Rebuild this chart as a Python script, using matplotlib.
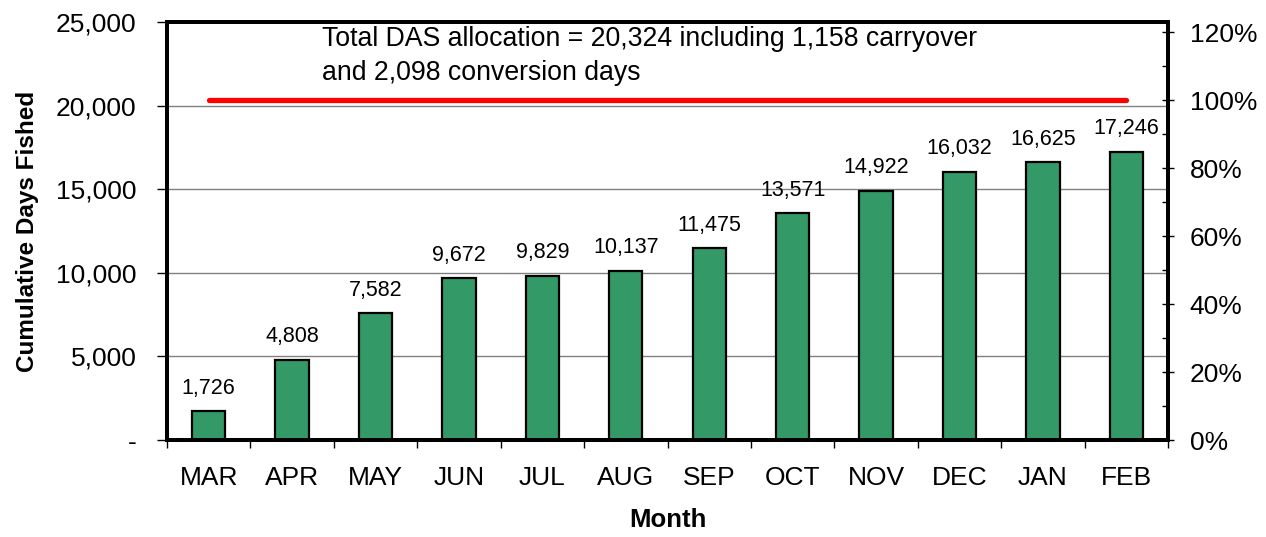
import matplotlib
matplotlib.use("Agg")
import matplotlib.pyplot as plt
from matplotlib.ticker import FixedLocator, FuncFormatter, MultipleLocator, NullFormatter

plt.rcParams['font.family'] = ['Liberation Sans', 'DejaVu Sans']

months = ["MAR", "APR", "MAY", "JUN", "JUL", "AUG", "SEP", "OCT", "NOV", "DEC", "JAN", "FEB"]
cum_days = [1726, 4808, 7582, 9672, 9829, 10137, 11475, 13571, 14922, 16032, 16625, 17246]
allocation = 20324
note = "Total DAS allocation = 20,324 including 1,158 carryover\nand 2,098 conversion days"
left_ticks = [0, 5000, 10000, 15000, 20000, 25000]
right_ticks = [0, 0.2, 0.4, 0.6, 0.8, 1.0, 1.2]

fig = plt.figure(figsize=(12.66, 5.37), dpi=100)
ax = fig.add_axes([167/1266, 1-440/537, (1168-167)/1266, (440-22)/537])

x = list(range(len(months)))
ax.bar(x, cum_days, width=0.4, color="#339966", edgecolor="black", linewidth=1.6, zorder=3)
ax.plot([x[0], x[-1]], [allocation, allocation], color="#ff0000", linewidth=3.8,
        solid_capstyle="round", zorder=4)

for xi, v in zip(x, cum_days):
    ax.annotate(f"{v:,}", (xi, v), xytext=(0, 9), textcoords="offset points",
                ha="center", va="bottom", fontsize=15.5)

ax.set_xlim(-0.5, len(months) - 0.5)
ax.set_ylim(0, 25000)
ax.set_yticks(left_ticks)
ax.yaxis.set_major_formatter(FuncFormatter(lambda v, p: "-" if v == 0 else f"{int(v):,}"))
ax.tick_params(axis="y", direction="out", length=7, width=1, pad=15, labelsize=19)
ax.grid(axis="y", color="#808080", linewidth=1, zorder=0)

ax.xaxis.set_major_locator(FixedLocator([i - 0.5 for i in range(len(months) + 1)]))
ax.xaxis.set_major_formatter(NullFormatter())
ax.xaxis.set_minor_locator(FixedLocator(x))
ax.set_xticklabels(months, minor=True)
ax.tick_params(axis="x", which="major", direction="out", length=6, width=1)
ax.tick_params(axis="x", which="minor", length=0, pad=19, labelsize=19)

for s in ax.spines.values():
    s.set_linewidth(2.8)
    s.set_zorder(5)

ax.set_ylabel("Cumulative Days Fished", fontsize=17.5, fontweight="bold", labelpad=12)
ax.set_xlabel("Month", fontsize=18.5, fontweight="bold", labelpad=13)

ax.text(0.155, 0.99, note, transform=ax.transAxes, ha="left", va="top",
        fontsize=19.2, linespacing=1.4, zorder=6)

ax2 = ax.twinx()
ax2.set_ylim(0, 25000 / allocation)
ax2.set_yticks(right_ticks)
ax2.yaxis.set_minor_locator(MultipleLocator(0.1))
ax2.yaxis.set_major_formatter(FuncFormatter(lambda v, p: f"{v*100:.0f}%"))
ax2.tick_params(axis="y", which="major", direction="inout", length=9, width=1, pad=11, labelsize=19)
ax2.tick_params(axis="y", which="minor", direction="in", length=4, width=1)
for s in ax2.spines.values():
    s.set_linewidth(2.8)

fig.savefig("out.png", dpi=100)
